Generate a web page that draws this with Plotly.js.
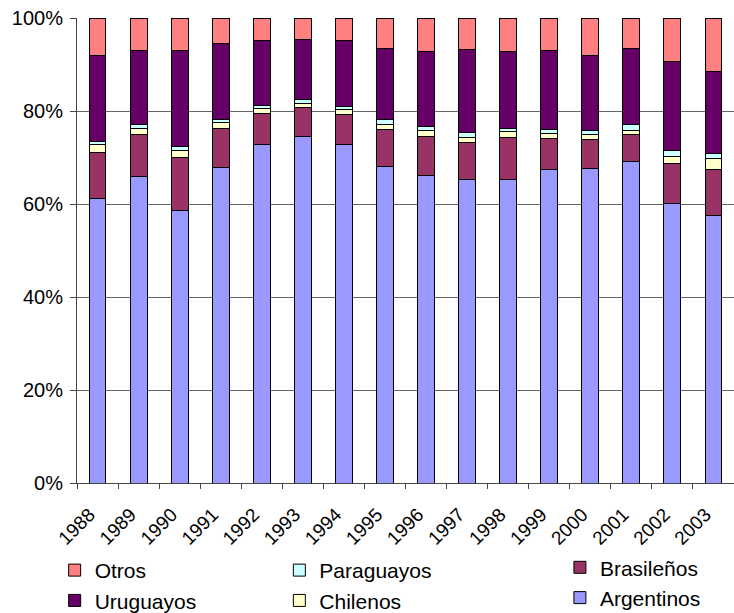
<!DOCTYPE html>
<html>
<head>
<meta charset="utf-8">
<script src="https://cdn.plot.ly/plotly-3.0.1.min.js"></script>
<style>html,body{margin:0;padding:0;background:#fff;}#chart{width:734px;height:613px;}</style>
</head>
<body>
<div id="chart"></div>
<script>
var years = ['1988','1989','1990','1991','1992','1993','1994','1995','1996','1997','1998','1999','2000','2001','2002','2003'];
var argentinos = [61.1,66.0,58.6,67.8,72.8,74.6,72.7,68.0,66.1,65.2,65.2,67.5,67.7,69.2,60.1,57.6];
var brasilenos = [9.9,9.0,11.3,8.4,6.7,6.2,6.6,8.1,8.5,8.0,9.1,6.6,6.1,5.7,8.7,9.9];
var chilenos   = [1.7,1.3,1.5,1.3,1.1,0.9,1.0,1.1,1.2,1.2,1.2,1.1,1.1,1.0,1.5,2.2];
var paraguayos = [0.8,0.8,0.9,0.7,0.6,0.7,0.6,1.0,0.9,0.9,0.8,0.9,0.9,1.2,1.2,1.2];
var uruguayos  = [18.5,16.0,20.7,16.4,13.9,12.9,14.2,15.3,16.2,17.9,16.6,16.9,16.2,16.3,19.1,17.6];
var otros      = [8.0,6.9,7.0,5.4,4.9,4.7,4.9,6.5,7.1,6.8,7.1,7.0,8.0,6.6,9.4,11.5];

function tr(name, vals, color, legend) {
  return {type:'bar', name:name, x:years, y:vals, legend:legend,
    marker:{color:color, line:{color:'#000', width:1}},
    hoverinfo:'x+y+name'};
}
var data = [
  tr('Argentinos', argentinos, '#9999FF', 'legend3'),
  tr('Brasileños', brasilenos, '#993366', 'legend3'),
  tr('Chilenos', chilenos, '#FFFFCC', 'legend2'),
  tr('Paraguayos', paraguayos, '#CCFFFF', 'legend2'),
  tr('Uruguayos', uruguayos, '#660066', 'legend'),
  tr('Otros', otros, '#FF8080', 'legend')
];
var font = {family:'"Liberation Sans", Arial, sans-serif', size:19, color:'#000'};
var yfont = {family:'"Liberation Sans", Arial, sans-serif', size:20, color:'#000'};
var lfont = {family:'"Liberation Sans", Arial, sans-serif', size:21, color:'#000'};
function leg(x, y) {
  return {x:x, y:y, xanchor:'left', yanchor:'top', xref:'paper', yref:'paper',
    orientation:'v', traceorder:'reversed', font:lfont, bgcolor:'rgba(0,0,0,0)', borderwidth:0,
    itemclick:false, itemdoubleclick:false};
}
var layout = {
  width:734, height:613,
  margin:{l:77, r:0, t:18, b:130, autoexpand:false},
  paper_bgcolor:'#fff', plot_bgcolor:'#fff',
  barmode:'stack', barnorm:'percent', bargap:0.59,
  font:font,
  showlegend:true,
  xaxis:{type:'category', showline:true, linecolor:'#444', linewidth:1,
    ticks:'outside', tickson:'boundaries', ticklen:5, tickcolor:'#444',
    tickangle:-45, tickfont:font, ticklabelstandoff:12, ticklabelshift:-8,
    showgrid:false, zeroline:false, automargin:false},
  yaxis:{range:[0,100], dtick:20, ticksuffix:'%', showline:true, linecolor:'#444', linewidth:1,
    ticks:'outside', ticklen:6, tickcolor:'#444', showgrid:true, gridcolor:'#666', gridwidth:1,
    tickfont:yfont, ticklabelstandoff:3, zeroline:false, automargin:false},
  legend: leg(-0.034, -0.144),
  legend2: leg(0.308, -0.144),
  legend3: leg(0.735, -0.138)
};
Plotly.newPlot('chart', data, layout, {displayModeBar:false, staticPlot:true});
</script>
</body>
</html>
